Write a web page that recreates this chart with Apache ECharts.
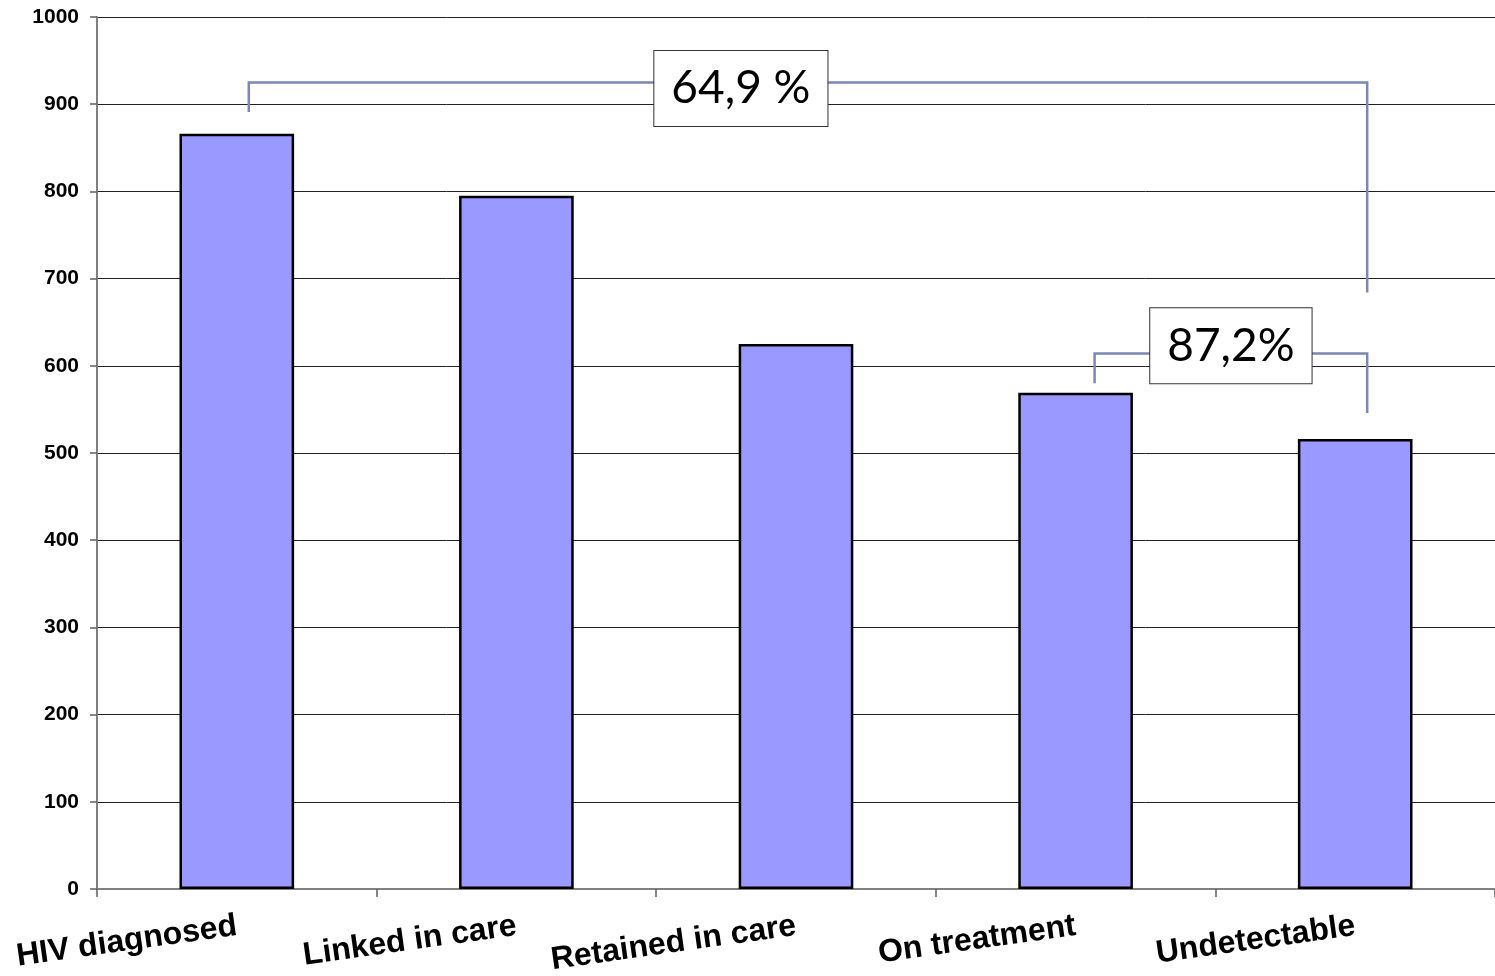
<!DOCTYPE html>
<html>
<head>
<meta charset="utf-8">
<script src="https://cdn.jsdelivr.net/npm/echarts@6/dist/echarts.min.js"></script>
<style>
  html, body { margin: 0; padding: 0; background: #fff; }
  #main { width: 1495px; height: 976px; }
</style>
</head>
<body>
<div id="main"></div>
<script>
// cascade steps and counts
var categories = ['HIV diagnosed', 'Linked in care', 'Retained in care', 'On treatment', 'Undetectable'];
var counts = [866, 795, 625, 569, 516];
var yTicks = [0, 100, 200, 300, 400, 500, 600, 700, 800, 900, 1000];

// bracket annotations (category index from/to, values for top line and end of legs)
var bracketFrom = [0, 3];
var bracketTo = [4, 4];
var bracketTop = [925, 614];
var bracketLeftEnd = [891, 580];
var bracketRightEnd = [684, 546];
var bracketLabels = ['64,9 %', '87,2%'];
var boxValue = [918, 623];     // vertical centre of the label box
var boxAlong = [0.44, 0.5];    // where the box sits along the bracket

var chartDom = document.getElementById('main');
var myChart = echarts.init(chartDom);

var legDx = [[12, 12], [19, 12]];  // small pixel offset of the legs from the bar centre

var option = {
    animation: false,
    grid: { left: 97, right: 0, top: 17, bottom: 87, containLabel: false, outerBoundsMode: 'none' },
    xAxis: {
        type: 'category',
        data: categories,
        axisLine: { lineStyle: { color: '#808080', width: 2 } },
        axisTick: { show: true, length: 8, lineStyle: { color: '#606060', width: 1.5 } },
        axisLabel: {
            rotate: 8,
            interval: 0,
            margin: 37,
            color: '#000',
            fontFamily: '"Liberation Sans", Arial, sans-serif',
            fontWeight: 'bold',
            fontSize: 32
        }
    },
    yAxis: {
        type: 'value',
        min: 0,
        max: 1000,
        interval: 100,
        axisLine: { show: true, lineStyle: { color: '#808080', width: 2 } },
        axisTick: { show: true, length: 7, lineStyle: { color: '#606060', width: 1.5 } },
        axisLabel: {
            margin: 18,
            color: '#000',
            fontFamily: '"Liberation Sans", Arial, sans-serif',
            fontWeight: 'bold',
            fontSize: 21,
            formatter: function (v) { return yTicks.indexOf(v) >= 0 ? String(v) : ''; }
        },
        splitLine: { show: true, lineStyle: { color: '#222', width: 1 } }
    },
    series: [
        {
            type: 'bar',
            data: counts,
            barWidth: '41%',
            itemStyle: { color: '#9999FF', borderColor: '#000', borderWidth: 2.5 },
            z: 3
        },
        {
            type: 'custom',
            data: bracketLabels.map(function (l, i) { return [i]; }),
            z: 5,
            clip: false,
            renderItem: function (params, api) {
                var i = params.dataIndex;
                var pTopL = api.coord([bracketFrom[i], bracketTop[i]]);
                var pTopR = api.coord([bracketTo[i], bracketTop[i]]);
                var pEndL = api.coord([bracketFrom[i], bracketLeftEnd[i]]);
                var pEndR = api.coord([bracketTo[i], bracketRightEnd[i]]);
                var xl = pTopL[0] + legDx[i][0];
                var xr = pTopR[0] + legDx[i][1];
                var boxY = api.coord([bracketFrom[i], boxValue[i]])[1];
                var boxX = xl + (xr - xl) * boxAlong[i];
                return {
                    type: 'group',
                    children: [
                        {
                            type: 'polyline',
                            shape: { points: [[xl, pEndL[1]], [xl, pTopL[1]], [xr, pTopR[1]], [xr, pEndR[1]]] },
                            style: { fill: null, stroke: '#7c87b3', lineWidth: 2.5 }
                        },
                        {
                            type: 'text',
                            x: boxX,
                            y: boxY,
                            style: {
                                text: bracketLabels[i],
                                fill: '#000',
                                font: '46px Lato, "DejaVu Sans", sans-serif',
                                align: 'center',
                                verticalAlign: 'middle',
                                backgroundColor: '#fff',
                                borderColor: '#333',
                                borderWidth: 1,
                                padding: [16, 17, 13, 17]
                            }
                        }
                    ]
                };
            }
        }
    ]
};

myChart.setOption(option);
</script>
</body>
</html>
